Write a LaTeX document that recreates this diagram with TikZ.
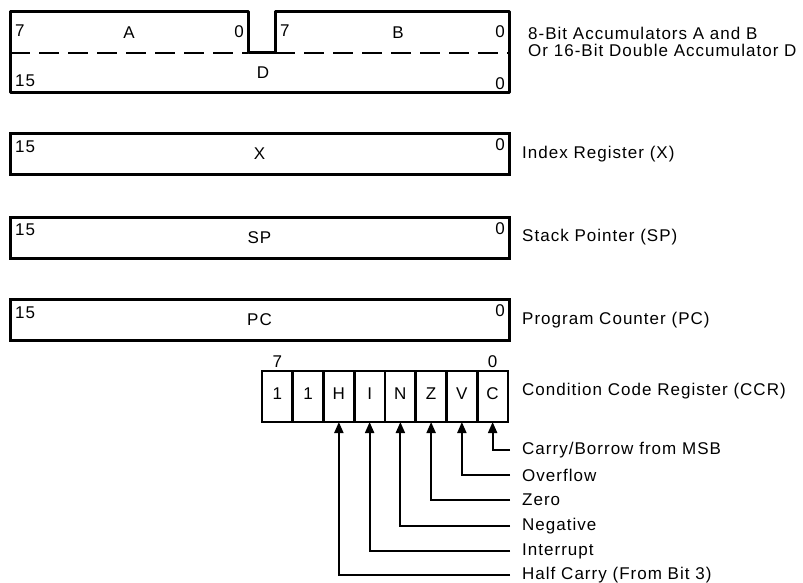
\documentclass[tikz,border=0pt]{standalone}
\usepackage{fontspec}
\setmainfont{Liberation Sans}[LetterSpace=6]
\usetikzlibrary{arrows.meta}
\begin{document}
\begin{tikzpicture}[x=1pt,y=-1pt,
  txt/.style={font=\fontsize{17}{17}\selectfont, inner sep=0pt},
  regbox/.style={draw, line width=3pt, minimum width=499pt, minimum height=41pt, inner sep=0pt, outer sep=0pt, font=\fontsize{17}{17}\selectfont},
  cell/.style={draw, line width=2.8pt, minimum width=30.75pt, minimum height=51pt, inner sep=0pt, outer sep=0pt, font=\fontsize{17}{17}\selectfont},
  outline/.style={line width=3pt, line join=round},
  dashline/.style={line width=2.2pt, dash pattern=on 20pt off 9pt},
  flag/.style={line width=2pt, -{Triangle[width=9pt,length=11pt]}},
]
\useasboundingbox (0,0) rectangle (803,583);

% ---- accumulators A, B / D ----
\draw[outline] (10,12) -- (248,12) -- (248,53) -- (275,53) -- (275,12) -- (509,12) -- (509,93) -- (10,93) -- cycle;
\draw[dashline] (10,53) -- (248,53);
\draw[dashline] (275,53) -- (509,53);
\node[txt, anchor=north west] (a7) at (15,25) {7};
\node[txt] (A) at (129,33) {A};
\node[txt, anchor=north east] (a0) at (244,25) {0};
\node[txt, anchor=north west] (b7) at (280,25) {7};
\node[txt] (B) at (398,33) {B};
\node[txt, anchor=north east] (b0) at (505,25) {0};
\node[txt, anchor=north west] (d15) at (15,75) {15};
\node[txt] (D) at (263,73) {D};
\node[txt, anchor=north east] (d0) at (505,77) {0};
\node[txt, anchor=west] (labAB) at (528,33) {8-Bit Accumulators A and B};
\node[txt, anchor=west] (labD) at (528,50) {Or 16-Bit Double Accumulator D};

% ---- 16-bit registers ----
\node[regbox] (X) at (259.5,154) {X};
\node[regbox] (SP) at (259.5,237.5) {SP};
\node[regbox] (PC) at (259.5,320) {PC};
\foreach \r/\l in {X/Index Register (X), SP/Stack Pointer (SP), PC/Program Counter (PC)}{
  \node[txt, anchor=north west] (\r15) at ([shift={(5,7)}]\r.north west) {15};
  \node[txt, anchor=north east] (\r0) at ([shift={(-4,5)}]\r.north east) {0};
  \node[txt, anchor=west] (\r lab) at ([xshift=13pt]\r.east) {\l};
}

% ---- condition code register ----
\foreach \n/\t [count=\i from 0] in {c7/1,c6/1,c5/H,c4/I,c3/N,c2/Z,c1/V,c0/C}{
  \node[cell] (\n) at (262+30.75*\i+15.375,396.5) {\raisebox{6pt}{\t}};
}
\node[txt] (ccr7) at ([yshift=9pt]c7.north) {7};
\node[txt] (ccr0) at ([yshift=9pt]c0.north) {0};
\node[txt, anchor=west] (ccrlab) at (522,391) {Condition Code Register (CCR)};

\foreach \n/\y/\l in {c0/450/{Carry/Borrow from MSB}, c1/475/Overflow, c2/500/Zero, c3/526/Negative, c4/551/Interrupt, c5/575/{Half Carry (From Bit 3)}}{
  \node[txt, anchor=west] (l\n) at (522,\y) {\l};
  \coordinate (e\n) at (510,\y);
  \draw[flag] (e\n) -| (\n.south);
}
\end{tikzpicture}
\end{document}
